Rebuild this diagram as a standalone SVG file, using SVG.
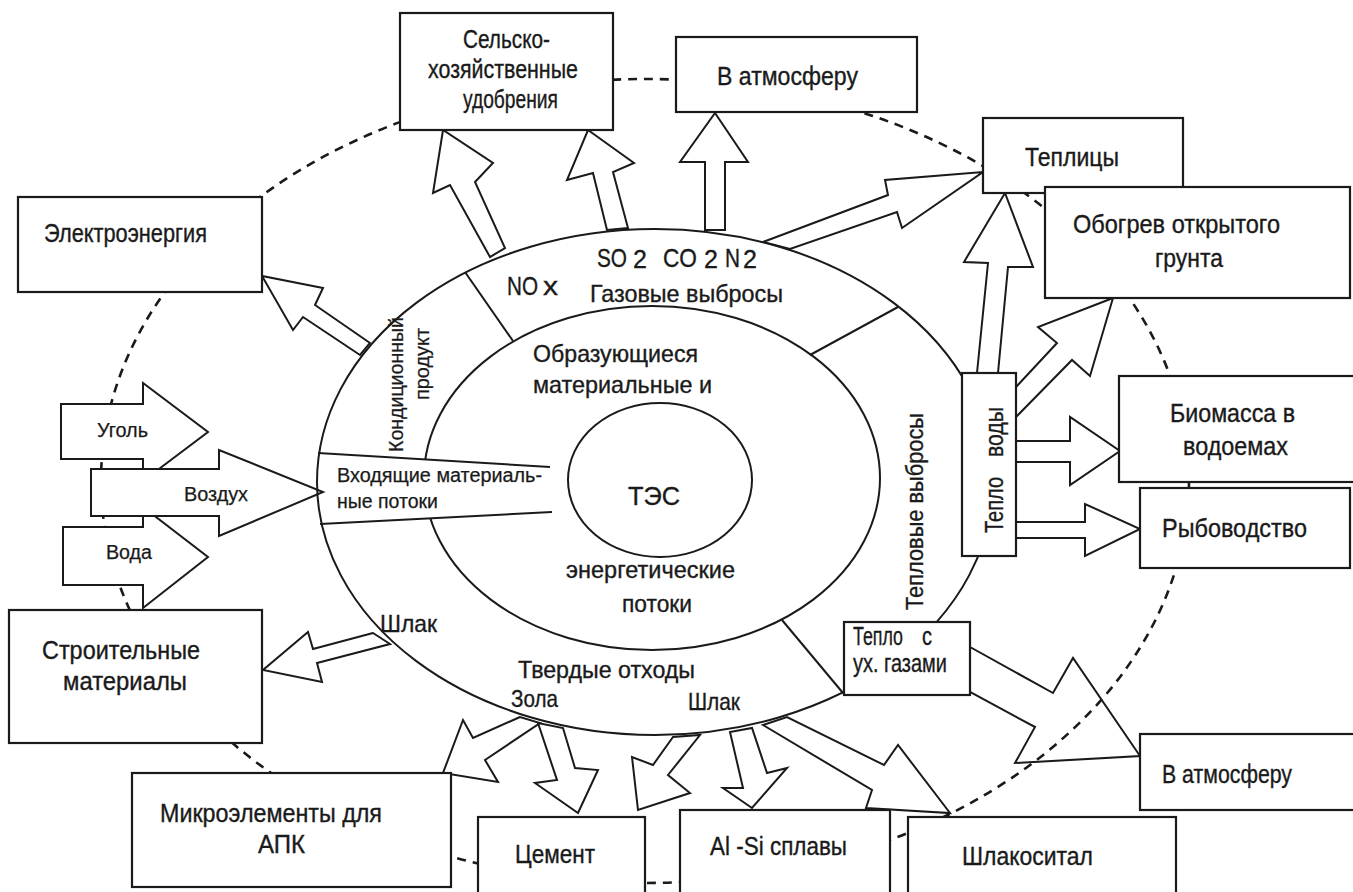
<svg xmlns="http://www.w3.org/2000/svg" width="1353" height="892" viewBox="0 0 1353 892">
<style>
.bg{fill:#fff}
.box{fill:#fff;stroke:#1a1a1a;stroke-width:2.2}
.arr{fill:#fff;stroke:#1a1a1a;stroke-width:2;stroke-linejoin:miter}
.ln{fill:none;stroke:#1a1a1a;stroke-width:2}
.dash{fill:none;stroke:#1a1a1a;stroke-width:2.6;stroke-dasharray:9 7}
.t{font-family:"Liberation Sans",Arial,"DejaVu Sans",sans-serif;fill:#1a1a1a;stroke:#1a1a1a;stroke-width:0.35;font-size:25px}
.r{font-size:24px}
.s19{font-size:19.5px;stroke-width:0.25}
</style>
<rect class="bg" x="0" y="0" width="1353" height="892"/>

<g id="connectors">
  <polygon class="arr" points="970,647 1053,693 1073,658 1140,756 1015,763 1035,727 970,692"/>
  <ellipse class="dash" cx="645" cy="481" rx="544" ry="402"/>
  <polygon class="arr" points="61,404 143,404 143,383 208,432 143,481 143,459 61,459"/>
  <polygon class="arr" points="63,527 143,527 143,507 208,557 143,608 143,585 63,585"/>
  <polygon class="arr" points="91,469 219,469 219,450 323,492 219,536 219,516 91,516"/>
  <polygon class="arr" points="370,343 315,305 323,288 262,276 293,330 303,317 360,355"/>
  <polygon class="arr" points="490,257 450,185 433,193 443,130 493,163 475,182 505,248"/>
  <polygon class="arr" points="607,230 593,173 567,180 588,130 634,163 613,172 628,228"/>
  <polygon class="arr" points="705,230 705,162 680,162 715,113 748,162 725,162 725,230"/>
  <polygon class="arr" points="763,242 888,195 885,180 983,172 902,228 897,212 790,249"/>
  <polygon class="arr" points="977,373 988,263 964,262 1005,193 1033,267 1008,267 998,373"/>
  <polygon class="arr" points="1016,387 1057,343 1038,327 1113,298 1090,376 1072,360 1016,417"/>
  <polygon class="arr" points="1016,441 1070,441 1070,417 1120,451 1070,485 1070,462 1016,462"/>
  <polygon class="arr" points="1016,522 1085,522 1085,504 1140,529 1085,556 1085,538 1016,538"/>
  <polygon class="arr" points="373,633 313,649 308,632 263,670 322,682 317,663 390,644"/>
  <polygon class="arr" points="520,717 473,738 463,720 443,773 498,782 485,760 540,723"/>
  <polygon class="arr" points="538,723 557,780 535,783 578,813 598,770 575,768 563,728"/>
  <polygon class="arr" points="673,737 653,765 632,757 638,810 690,793 668,775 700,735"/>
  <polygon class="arr" points="730,732 743,788 723,788 752,808 787,768 767,773 752,728"/>
  <polygon class="arr" points="763,725 872,790 866,808 950,813 898,745 884,765 787,717"/>
</g>

<g id="tes-rings">
  <ellipse class="ln" cx="655" cy="482" rx="338" ry="253"/>
  <ellipse class="ln" cx="652" cy="478" rx="228" ry="172"/>
  <polygon fill="#fff" points="335,454 550,467 552,512 335,523"/>
  <line class="ln" x1="318" y1="453" x2="550" y2="467"/>
  <line class="ln" x1="320" y1="524" x2="552" y2="512"/>
  <line class="ln" x1="465" y1="272" x2="513" y2="341"/>
  <line class="ln" x1="898" y1="307" x2="810" y2="355"/>
  <line class="ln" x1="782" y1="620" x2="843" y2="693"/>
  <ellipse class="ln" cx="660" cy="480" rx="92" ry="77"/>
  <text class="t" x="628" y="505" font-size="31" textLength="52" lengthAdjust="spacingAndGlyphs">ТЭС</text>
  <text class="t r" x="533" y="362" textLength="165" lengthAdjust="spacingAndGlyphs">Образующиеся</text>
  <text class="t r" x="533" y="393" textLength="179" lengthAdjust="spacingAndGlyphs">материальные и</text>
  <text class="t r" x="566" y="578" textLength="169" lengthAdjust="spacingAndGlyphs">энергетические</text>
  <text class="t r" x="622" y="612" textLength="70" lengthAdjust="spacingAndGlyphs">потоки</text>
  <text class="t s19" x="337" y="482" textLength="205" lengthAdjust="spacingAndGlyphs">Входящие материаль-</text>
  <text class="t s19" x="337" y="508" textLength="101" lengthAdjust="spacingAndGlyphs">ные потоки</text>
  <text class="t" x="507" y="295" font-size="29" textLength="31" lengthAdjust="spacingAndGlyphs">NO</text>
  <text class="t" x="543" y="295" font-size="25" textLength="15" lengthAdjust="spacingAndGlyphs">x</text>
  <text class="t" x="597" y="267" font-size="28" textLength="30" lengthAdjust="spacingAndGlyphs">SO</text>
  <text class="t" x="633" y="268" font-size="18">2</text>
  <text class="t" x="663" y="267" font-size="28" textLength="34" lengthAdjust="spacingAndGlyphs">CO</text>
  <text class="t" x="704" y="268" font-size="18">2</text>
  <text class="t" x="725" y="267" font-size="28" textLength="15" lengthAdjust="spacingAndGlyphs">N</text>
  <text class="t" x="743" y="268" font-size="18">2</text>
  <text class="t r" x="590" y="302" textLength="193" lengthAdjust="spacingAndGlyphs">Газовые выбросы</text>
  <text class="t s19" font-size="21" transform="translate(403,452) rotate(-90)" textLength="135" lengthAdjust="spacingAndGlyphs">Кондиционный</text>
  <text class="t s19" font-size="21" transform="translate(429,400) rotate(-90)" textLength="72" lengthAdjust="spacingAndGlyphs">продукт</text>
  <text class="t r" transform="translate(923,610) rotate(-90)" textLength="197" lengthAdjust="spacingAndGlyphs">Тепловые выбросы</text>
  <text class="t r" x="518" y="678" textLength="177" lengthAdjust="spacingAndGlyphs">Твердые отходы</text>
  <text class="t r" x="511" y="707" textLength="47" lengthAdjust="spacingAndGlyphs">Зола</text>
  <text class="t r" x="688" y="710" textLength="52" lengthAdjust="spacingAndGlyphs">Шлак</text>
  <text class="t r" x="380" y="632" textLength="57" lengthAdjust="spacingAndGlyphs">Шлак</text>
</g>

<g id="inputs">
  <text class="t s19" x="97" y="437" textLength="51" lengthAdjust="spacingAndGlyphs">Уголь</text>
  <text class="t s19" x="106" y="559" textLength="46" lengthAdjust="spacingAndGlyphs">Вода</text>
  <text class="t s19" x="184" y="501" textLength="64" lengthAdjust="spacingAndGlyphs">Воздух</text>
</g>

<g id="node-selhoz">
  <rect class="box" x="400" y="13" width="213" height="117"/>
  <text class="t" x="463" y="48" textLength="87" lengthAdjust="spacingAndGlyphs">Сельско-</text>
  <text class="t" x="428" y="78" textLength="150" lengthAdjust="spacingAndGlyphs">хозяйственные</text>
  <text class="t" x="463" y="108" textLength="95" lengthAdjust="spacingAndGlyphs">удобрения</text>
</g>
<g id="node-atm-top">
  <rect class="box" x="676" y="37" width="241" height="75"/>
  <text class="t" x="717" y="85" textLength="141" lengthAdjust="spacingAndGlyphs">В атмосферу</text>
</g>
<g id="node-teplicy">
  <rect class="box" x="983" y="118" width="200" height="75"/>
  <text class="t" x="1025" y="166" textLength="94" lengthAdjust="spacingAndGlyphs">Теплицы</text>
</g>
<g id="node-obogrev">
  <rect class="box" x="1045" y="187" width="305" height="111"/>
  <text class="t" x="1073" y="233" textLength="207" lengthAdjust="spacingAndGlyphs">Обогрев открытого</text>
  <text class="t" x="1155" y="267" textLength="68" lengthAdjust="spacingAndGlyphs">грунта</text>
</g>
<g id="node-electro">
  <rect class="box" x="18" y="197" width="244" height="95"/>
  <text class="t" x="44" y="242" textLength="163" lengthAdjust="spacingAndGlyphs">Электроэнергия</text>
</g>
<g id="node-teplo-vody">
  <rect class="box" x="962" y="373" width="54" height="183"/>
  <text class="t" font-size="22" transform="translate(1003,533) rotate(-90)" textLength="56" lengthAdjust="spacingAndGlyphs">Тепло</text>
  <text class="t" font-size="22" transform="translate(1003,457) rotate(-90)" textLength="50" lengthAdjust="spacingAndGlyphs">воды</text>
</g>
<g id="node-biomassa">
  <rect class="box" x="1119" y="376" width="236" height="106"/>
  <text class="t" x="1170" y="422" textLength="125" lengthAdjust="spacingAndGlyphs">Биомасса в</text>
  <text class="t" x="1183" y="455" textLength="105" lengthAdjust="spacingAndGlyphs">водоемах</text>
</g>
<g id="node-ryba">
  <rect class="box" x="1140" y="488" width="210" height="80"/>
  <text class="t" x="1162" y="537" textLength="145" lengthAdjust="spacingAndGlyphs">Рыбоводство</text>
</g>
<g id="node-teplo-gaz">
  <rect class="box" x="844" y="622" width="126" height="73"/>
  <text class="t" font-size="22" x="853" y="645" textLength="50" lengthAdjust="spacingAndGlyphs">Тепло</text>
  <text class="t" font-size="22" x="922" y="645" textLength="10" lengthAdjust="spacingAndGlyphs">с</text>
  <text class="t" font-size="22" x="853" y="672" textLength="94" lengthAdjust="spacingAndGlyphs">ух. газами</text>
</g>
<g id="node-atm-bottom">
  <rect class="box" x="1140" y="734" width="215" height="76"/>
  <text class="t" x="1162" y="783" textLength="130" lengthAdjust="spacingAndGlyphs">В атмосферу</text>
</g>
<g id="node-stroit">
  <rect class="box" x="9" y="610" width="253" height="133"/>
  <text class="t" x="42" y="659" textLength="158" lengthAdjust="spacingAndGlyphs">Строительные</text>
  <text class="t" x="63" y="690" textLength="124" lengthAdjust="spacingAndGlyphs">материалы</text>
</g>
<g id="node-mikro">
  <rect class="box" x="132" y="773" width="319" height="114"/>
  <text class="t" x="160" y="822" textLength="222" lengthAdjust="spacingAndGlyphs">Микроэлементы для</text>
  <text class="t" x="258" y="853" textLength="47" lengthAdjust="spacingAndGlyphs">АПК</text>
</g>
<g id="node-cement">
  <rect class="box" x="478" y="817" width="167" height="80"/>
  <text class="t" x="515" y="863" textLength="80" lengthAdjust="spacingAndGlyphs">Цемент</text>
</g>
<g id="node-alsi">
  <rect class="box" x="680" y="810" width="210" height="90"/>
  <text class="t" x="710" y="855" textLength="137" lengthAdjust="spacingAndGlyphs">Al -Si сплавы</text>
</g>
<g id="node-shlakosital">
  <rect class="box" x="908" y="817" width="268" height="90"/>
  <text class="t" x="962" y="865" textLength="131" lengthAdjust="spacingAndGlyphs">Шлакоситал</text>
</g>
</svg>
